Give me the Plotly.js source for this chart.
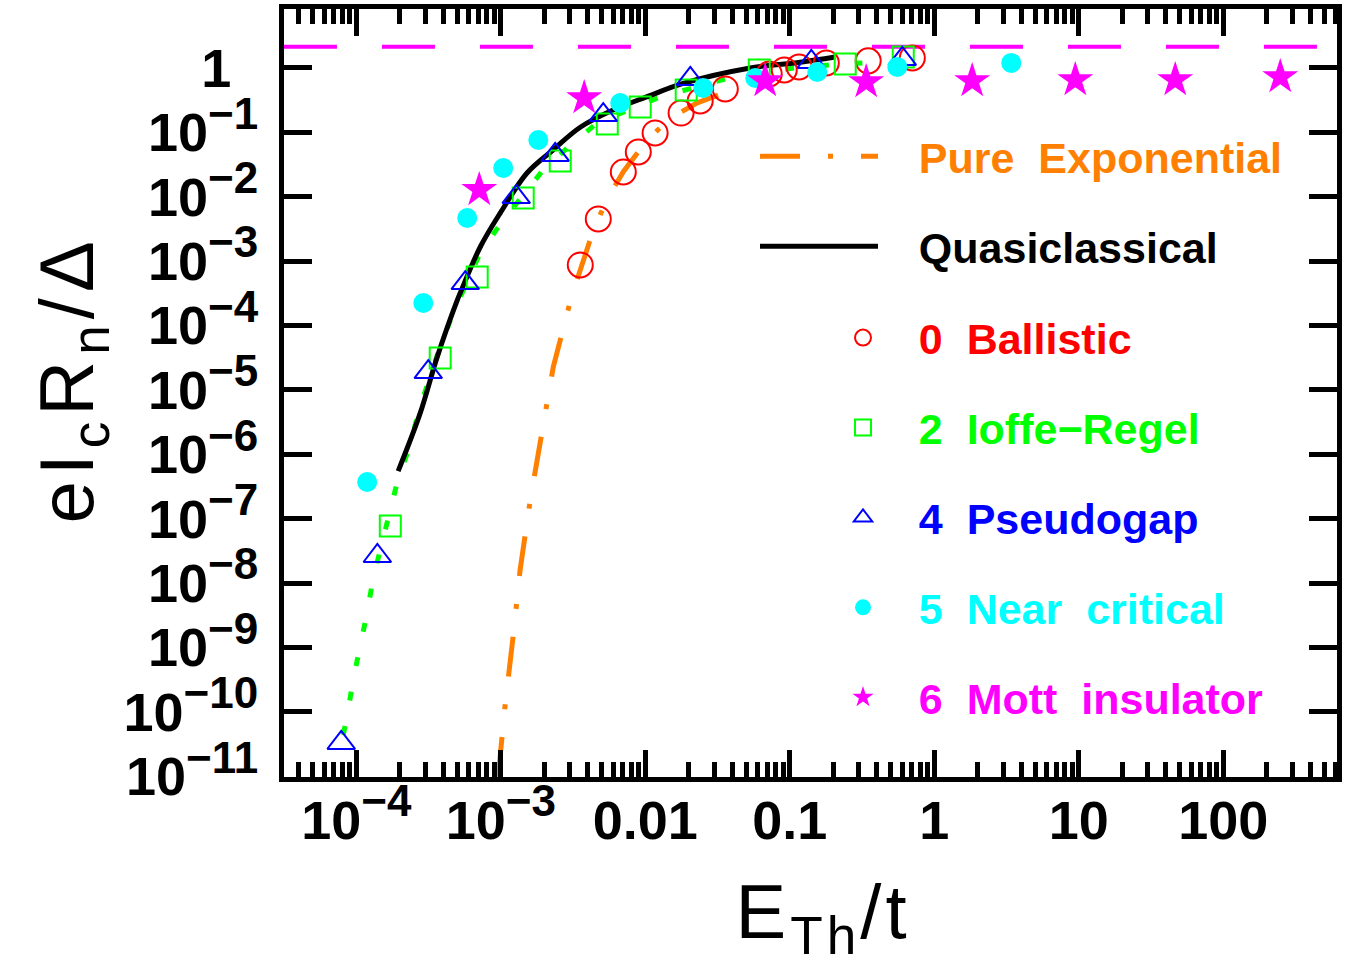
<!DOCTYPE html>
<html><head><meta charset="utf-8">
<script src="https://cdn.plot.ly/plotly-3.0.1.min.js"></script>
<style>body{margin:0;background:#fff}#chart{width:1345px;height:965px}</style>
</head><body><div id="chart"></div>
<script>
// ---------- data ----------
const pureExpX = [9.6e-4, 1.07e-3, 1.22e-3, 1.36e-3, 1.60e-3, 1.94e-3, 2.31e-3, 3.08e-3, 4.37e-3, 5.46e-3, 7.05e-3, 1.03e-2, 1.49e-2, 2.29e-2, 3.20e-2];
const pureExpY = [9.8e-12, 1.23e-10, 1.55e-9, 1.58e-8, 1.95e-7, 2.40e-6, 2.29e-5, 2.75e-4, 3.02e-3, 9.3e-3, 2.45e-2, 7.6e-2, 0.166, 0.288, 0.380];

const quasiX = [1.95e-4, 2.77e-4, 3.63e-4, 5.01e-4, 5.25e-4, 7.21e-4, 9.93e-4, 1.52e-3, 2.31e-3, 3.55e-3, 6.03e-3, 1.02e-2, 1.83e-2, 5.33e-2, 0.118, 0.206];
const quasiY = [5.5e-7, 4.37e-6, 3.24e-5, 2.51e-4, 3.24e-4, 1.66e-3, 5.62e-3, 2.34e-2, 5.37e-2, 0.120, 0.224, 0.355, 0.575, 1.0, 1.23, 1.48];

const ioffeLineX = [8.13e-5, 8.67e-5, 9.53e-5, 1.07e-4, 1.19e-4, 1.31e-4, 1.51e-4, 1.72e-4, 1.95e-4, 2.37e-4, 2.69e-4, 3.81e-4, 4.69e-4, 7.21e-4, 1.02e-3, 1.97e-3, 3.03e-3, 4.66e-3, 1.27e-2, 3.58e-2, 0.106, 0.191, 0.318];
const ioffeLineY = [4.4e-11, 8.9e-11, 3.2e-10, 1.02e-9, 3.5e-9, 1.2e-8, 4.2e-8, 1.38e-7, 4.2e-7, 1.41e-6, 4.6e-6, 4.7e-5, 1.58e-4, 1.35e-3, 4.1e-3, 2.63e-2, 6.3e-2, 0.141, 0.355, 0.676, 1.0, 1.12, 1.20];

const mottLimitX = [3.16e-5, 613];
const mottLimitY = [2.14, 2.14];

const ballisticX = [3.55e-3, 4.73e-3, 7.05e-3, 8.95e-3, 1.17e-2, 1.77e-2, 2.40e-2, 3.58e-2, 7.21e-2, 9.16e-2, 0.116, 0.179, 0.349, 0.705];
const ballisticY = [8.73e-4, 4.52e-3, 2.43e-2, 4.97e-2, 9.8e-2, 0.200, 0.308, 0.472, 0.807, 0.931, 1.04, 1.20, 1.29, 1.43];

const ioffeX = [1.72e-4, 3.81e-4, 6.87e-4, 1.43e-3, 2.58e-3, 5.46e-3, 9.23e-3, 1.92e-2, 6.15e-2, 0.242, 0.610];
const ioffeY = [7.7e-8, 3.14e-5, 5.69e-4, 9.58e-3, 3.6e-2, 0.135, 0.248, 0.455, 0.931, 1.15, 1.48];

const pseudoX = [7.87e-5, 1.40e-4, 3.15e-4, 5.68e-4, 1.28e-3, 2.38e-3, 5.12e-3, 2.05e-2, 0.141, 0.601];
const pseudoY = [3.3e-11, 2.64e-8, 1.9e-5, 4.58e-4, 9.9e-3, 4.47e-2, 0.186, 0.675, 1.24, 1.38];

const nearX = [1.19e-4, 2.91e-4, 5.86e-4, 1.04e-3, 1.82e-3, 6.71e-3, 2.52e-2, 5.77e-2, 0.155, 0.555, 3.41];
const nearY = [3.73e-7, 2.24e-4, 4.69e-3, 2.8e-2, 7.62e-2, 0.286, 0.489, 0.700, 0.867, 1.04, 1.20];

const mottX = [7.10e-4, 3.78e-3, 6.76e-2, 0.338, 1.83, 9.46, 46.5, 248];
const mottY = [1.28e-2, 0.342, 0.628, 0.606, 0.628, 0.651, 0.651, 0.724];

const xTickVals = [1e-4, 1e-3, 1e-2, 0.1, 1, 10, 100];
const xTickText = ['10^−4', '10^−3', '0.01', '0.1', '1', '10', '100'];
const yTickVals = [1, 1e-1, 1e-2, 1e-3, 1e-4, 1e-5, 1e-6, 1e-7, 1e-8, 1e-9, 1e-10, 1e-11];
const yTickText = ['1', '10^−1', '10^−2', '10^−3', '10^−4', '10^−5', '10^−6', '10^−7', '10^−8', '10^−9', '10^−10', '10^−11'];

// ---------- chart ----------
const C = {orange:'#ff8000', red:'#ff0000', green:'#00ff00', blue:'#0000ff', cyan:'#00ffff', magenta:'#ff00ff'};
const nb = '\u00a0';
const pad = nb + nb + nb;
function lbl(t, col){ return '<span style="color:' + col + '">' + pad + t + '</span>'; }
function fmtTick(t){
  const p = t.split('^');
  if (p.length === 1) return t;
  return p[0] + '<sup><span style="font-size:44px">' + p[1] + '</span></sup>';
}
const yTickLabels = yTickText.map(t => t === '1' ? '1\u2002' : fmtTick(t));

const minorVals = [];
for (let k = -5; k <= 2; k++) for (let m = 2; m <= 9; m++) minorVals.push(m * Math.pow(10, k));

const traces = [
  {x: ioffeLineX, y: ioffeLineY, mode:'lines', line:{color:C.green, width:5, dash:'9px,26px'}, showlegend:false, hoverinfo:'skip'},
  {x: mottLimitX, y: mottLimitY, mode:'lines', line:{color:C.magenta, width:4, dash:'53px,45px'}, showlegend:false, hoverinfo:'skip'},
  {x: pureExpX, y: pureExpY, mode:'lines', name: lbl('Pure' + nb + ' Exponential', C.orange), legend:'legend', legendgroup:'a',
   line:{color:C.orange, width:5, dash:'40px,28px,5px,28px'}},
  {x: quasiX, y: quasiY, mode:'lines', name: lbl('Quasiclassical', 'black'), legend:'legend', legendgroup:'b',
   line:{color:'black', width:5, shape:'spline'}},
  {x: ballisticX, y: ballisticY, mode:'markers', name: lbl('0' + nb + ' Ballistic', C.red), legend:'legend2', legendgroup:'c',
   marker:{symbol:'circle-open', size:25, color:C.red, line:{width:2}}},
  {x: ioffeX, y: ioffeY, mode:'markers', name: lbl('2' + nb + ' Ioffe−Regel', C.green), legend:'legend2', legendgroup:'d',
   marker:{symbol:'square-open', size:21, color:C.green, line:{width:2}}},
  {x: pseudoX, y: pseudoY, mode:'markers', name: lbl('4' + nb + ' Pseudogap', C.blue), legend:'legend2', legendgroup:'e',
   marker:{symbol:'triangle-up-open', size:24, color:C.blue, line:{width:2}}},
  {x: nearX, y: nearY, mode:'markers', name: lbl('5' + nb + ' Near' + nb + ' critical', C.cyan), legend:'legend2', legendgroup:'f',
   marker:{symbol:'circle', size:20, color:C.cyan}},
  {x: mottX, y: mottY, mode:'markers', name: lbl('6' + nb + ' Mott' + nb + ' insulator', C.magenta), legend:'legend2', legendgroup:'g',
   marker:{symbol:'star', size:27, color:C.magenta}}
];

const axisCommon = {
  type:'log', showline:true, linewidth:5, linecolor:'black', mirror:'ticks',
  ticks:'inside', tickwidth:5, tickcolor:'black', showgrid:false, zeroline:false,
  tickmode:'array', tickfont:{size:54, weight:'bold', color:'black'}
};

const layout = {
  width:1345, height:965,
  margin:{l:284, r:8, t:9, b:188},
  paper_bgcolor:'white', plot_bgcolor:'white',
  font:{family:'"Liberation Sans", Arial, sans-serif', color:'black'},
  xaxis: Object.assign({}, axisCommon, {
    range:[-4.5, 2.787], tickvals:xTickVals, ticktext:xTickText.map(fmtTick), ticklen:27, ticklabelstandoff:-8,
    minor:{tickmode:'array', tickvals:minorVals, ticks:'inside', ticklen:15, tickwidth:5, tickcolor:'black', showgrid:false},
    title:{text:'<span style="letter-spacing:4px">' + nb + 'E<sub>Th</sub>/t</span>', font:{size:76}, standoff:44}
  }),
  yaxis: Object.assign({}, axisCommon, {
    range:[-11.01, 0.916], tickvals:yTickVals, ticktext:yTickLabels, ticklen:28, ticklabelstandoff:10,
    title:{text:'<span style="letter-spacing:6px">' + nb + 'eI<sub>c</sub>R<sub>n</sub>/Δ</span>', font:{size:76}, standoff:6}
  }),
  legend:{x:(755 - 284) / 1053, y:0.853, xanchor:'left', yanchor:'top', bgcolor:'rgba(0,0,0,0)', borderwidth:0,
    font:{size:43, weight:'bold'}, itemwidth:118, tracegroupgap:31, traceorder:'grouped'},
  legend2:{x:(843 - 284) / 1053, y:0.617, xanchor:'left', yanchor:'top', bgcolor:'rgba(0,0,0,0)', borderwidth:0,
    font:{size:43, weight:'bold'}, itemwidth:30, tracegroupgap:31, traceorder:'grouped'},
  showlegend:true
};

Plotly.newPlot('chart', traces, layout, {displayModeBar:false, staticPlot:true});
</script>
</body></html>
